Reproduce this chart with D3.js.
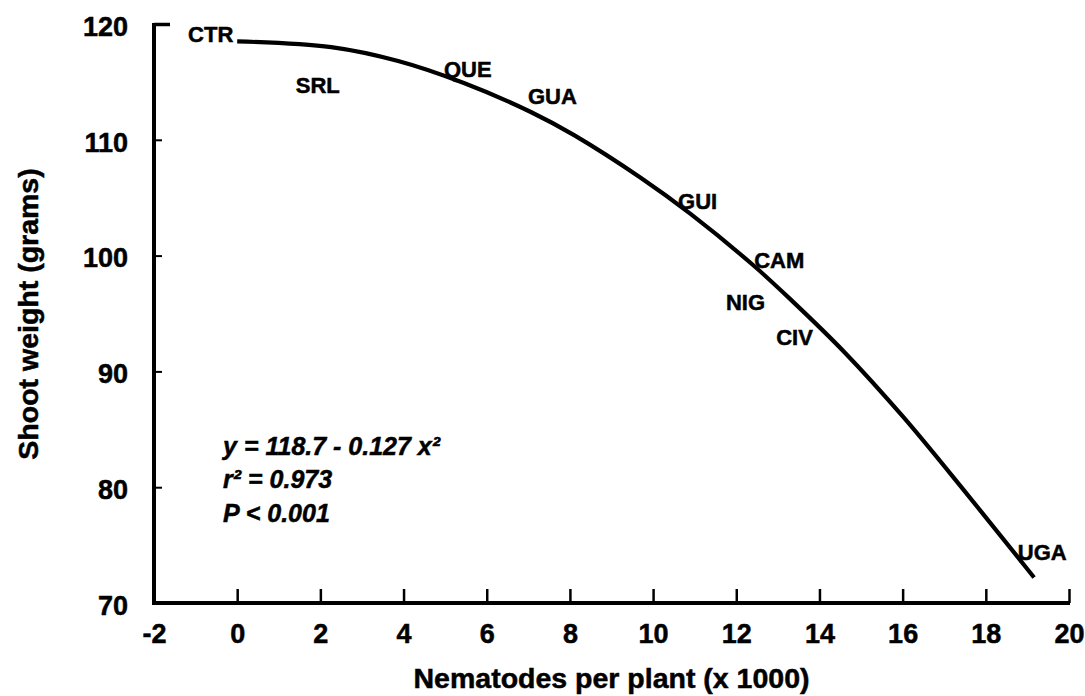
<!DOCTYPE html>
<html>
<head>
<meta charset="utf-8">
<script src="https://cdn.jsdelivr.net/npm/d3@7"></script>
<style>
  html, body { margin: 0; padding: 0; background: #fff; }
  svg { display: block; font-family: "Liberation Sans", Arial, Helvetica, sans-serif; }
</style>
</head>
<body>
<svg id="chart" width="1085" height="696"></svg>
<script>
// ---- Data ----
// Fitted curve y = 118.7 - 0.127 x^2
const curveX = [0, 2.26, 3.87, 5.45, 7.06, 8.1, 9.71, 10.9, 12.43, 13.31, 14.59, 16.03, 17.48, 18.85, 19.16];
const curveY = [118.5, 118.0, 116.8, 114.9, 112.4, 110.4, 106.7, 103.6, 99.1, 96.2, 91.7, 86.0, 79.7, 73.6, 72.2];

// Isolate labels (anchor of each label: left edge / baseline in data units)
const isolateNames = ["CTR", "SRL", "QUE", "GUA", "GUI", "CAM", "NIG", "CIV", "UGA"];
const isolateX     = [-1.18, 1.41, 4.97, 6.99, 10.6, 12.43, 11.75, 12.96, 18.77];
const isolateY     = [118.45, 114.05, 115.43, 113.1, 104.05, 98.9, 95.26, 92.24, 73.7];

const xTicks = [-2, 0, 2, 4, 6, 8, 10, 12, 14, 16, 18, 20];
const yTicks = [70, 80, 90, 100, 110, 120];

const xTitle = "Nematodes per plant (x 1000)";
const yTitle = "Shoot weight (grams)";
const equationLines = ["y = 118.7 - 0.127 x\u00B2", "r\u00B2 = 0.973", "P < 0.001"];
const equationX = -0.34;
const equationY = [82.8, 79.9, 77.0];

// ---- Chart ----
const svg = d3.select("#chart");
const x = d3.scaleLinear().domain([-2, 20]).range([154, 1069]);
const y = d3.scaleLinear().domain([70, 120]).range([603, 24]);
const fmt = d => String(d);   // plain hyphen-minus, as in the reference

const textStyle = sel => sel.attr("fill", "#000").attr("stroke", "#000").attr("stroke-width", 0.5)
  .attr("font-family", "'Liberation Sans', Arial, sans-serif").attr("font-weight", "bold");

// X axis
const xAxis = d3.axisBottom(x).tickValues(xTicks).tickSize(0).tickPadding(0).tickFormat(fmt);
const gx = svg.append("g").attr("transform", `translate(0,${y(70)})`).call(xAxis);
gx.select(".domain").remove();
gx.selectAll(".tick text")
  .attr("y", 40).attr("dy", 0).attr("font-size", 27)
  .call(textStyle);
gx.selectAll(".tick").filter(d => d !== -2).append("line")
  .attr("y1", 0).attr("y2", -14).attr("stroke", "#000").attr("stroke-width", 2.5);
gx.append("line").attr("x1", x(-2) - 2).attr("x2", x(20) + 1)
  .attr("y1", 0).attr("y2", 0).attr("stroke", "#000").attr("stroke-width", 4);

// Y axis
const yAxis = d3.axisLeft(y).tickValues(yTicks).tickSize(0).tickPadding(0).tickFormat(fmt);
const gy = svg.append("g").attr("transform", `translate(${x(-2)},0)`).call(yAxis);
gy.select(".domain").remove();
gy.selectAll(".tick text")
  .attr("x", -26).attr("dy", "0.42em").attr("font-size", 27)
  .call(textStyle);
gy.selectAll(".tick").filter(d => d !== 70).append("line")
  .attr("x1", 0).attr("x2", d => d === 120 ? 16 : 8)
  .attr("stroke", "#000").attr("stroke-width", d => d === 120 ? 3.5 : 2);
gy.append("line").attr("x1", 0).attr("x2", 0)
  .attr("y1", y(120) - 1).attr("y2", y(70) + 2)
  .attr("stroke", "#000").attr("stroke-width", 4);

// Axis titles
svg.append("text")
  .attr("x", (x(-2) + x(20)) / 2).attr("y", 688)
  .attr("text-anchor", "middle").attr("font-size", 28.5)
  .call(textStyle)
  .text(xTitle);
svg.append("text")
  .attr("transform", `translate(38,${314}) rotate(-90)`)
  .attr("text-anchor", "middle").attr("font-size", 28.5)
  .call(textStyle)
  .text(yTitle);

// Curve
const pts = curveX.map((d, i) => [d, curveY[i]]);
svg.append("path")
  .datum(pts)
  .attr("fill", "none").attr("stroke", "#000").attr("stroke-width", 4.2)
  .attr("stroke-linecap", "butt")
  .attr("d", d3.line().x(d => x(d[0])).y(d => y(d[1])).curve(d3.curveCatmullRom.alpha(0.5)));

// Isolate labels
svg.append("g").selectAll("text")
  .data(isolateNames)
  .join("text")
  .attr("x", (d, i) => x(isolateX[i]))
  .attr("y", (d, i) => y(isolateY[i]))
  .attr("font-size", 22)
  .call(textStyle)
  .text(d => d);

// Equation annotation
svg.append("g").selectAll("text")
  .data(equationLines)
  .join("text")
  .attr("x", x(equationX))
  .attr("y", (d, i) => y(equationY[i]))
  .attr("font-size", 25).attr("font-style", "italic")
  .call(textStyle)
  .text(d => d);
</script>
</body>
</html>
